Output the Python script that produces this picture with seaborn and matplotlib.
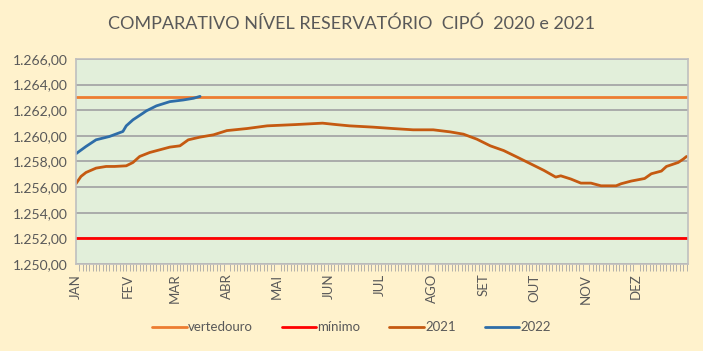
import pandas as pd
import seaborn as sns
import matplotlib.pyplot as plt
from matplotlib.ticker import FuncFormatter, MultipleLocator

# day of year (0 = 1 jan) and reservoir level
dias_2021 = [0, 3, 6, 12, 18, 23, 30, 34, 38, 44, 50, 56, 62, 67, 74, 82, 90, 102,
             114, 131, 147, 155, 163, 177, 189, 201, 213, 223, 231, 239, 247, 255,
             263, 271, 279, 286, 289, 295, 301, 307, 313, 322, 325, 331, 339, 343,
             349, 352, 359, 362, 364]
nivel_2021 = [1256.26, 1256.83, 1257.14, 1257.48, 1257.61, 1257.61, 1257.66, 1257.92,
              1258.39, 1258.70, 1258.91, 1259.12, 1259.22, 1259.69, 1259.90, 1260.08,
              1260.41, 1260.57, 1260.78, 1260.88, 1260.99, 1260.88, 1260.78, 1260.68,
              1260.57, 1260.47, 1260.47, 1260.31, 1260.13, 1259.74, 1259.22, 1258.85,
              1258.34, 1257.82, 1257.30, 1256.78, 1256.88, 1256.63, 1256.31, 1256.31,
              1256.10, 1256.10, 1256.26, 1256.47, 1256.67, 1257.04, 1257.25, 1257.61,
              1257.92, 1258.18, 1258.39]

dias_2022 = [0, 6, 12, 20, 28, 30, 34, 40, 42, 48, 56, 64, 70, 74]
nivel_2022 = [1258.60, 1259.17, 1259.69, 1259.95, 1260.34, 1260.78, 1261.25, 1261.77,
              1261.95, 1262.34, 1262.67, 1262.80, 1262.93, 1263.08]

vertedouro = 1263.05
minimo = 1252.0

meses = ['JAN', 'FEV', 'MAR', 'ABR', 'MAI', 'JUN', 'JUL', 'AGO', 'SET', 'OUT', 'NOV', 'DEZ']
inicio_mes = [0, 31, 59, 90, 120, 151, 181, 212, 243, 273, 304, 334]

df21 = pd.DataFrame({'dia': dias_2021, 'nivel': nivel_2021})
df22 = pd.DataFrame({'dia': dias_2022, 'nivel': nivel_2022})

sns.set_style('white')
plt.rcParams['font.family'] = ['Lato', 'DejaVu Sans']

fig = plt.figure(figsize=(7.03, 3.51), dpi=100, facecolor='#FFF2CC')
ax = fig.add_axes([0.108, 0.248, 0.871, 0.584])
ax.set_facecolor('#E2EFDA')

ax.axhline(vertedouro, color='#ED7D31', lw=2, label='vertedouro')
ax.axhline(minimo, color='#FF0000', lw=2, label='mínimo')
sns.lineplot(data=df21, x='dia', y='nivel', ax=ax, color='#C55A11', lw=2, label='2021')
sns.lineplot(data=df22, x='dia', y='nivel', ax=ax, color='#2E6DA8', lw=2, label='2022')

ax.set_xlim(0, 365)
ax.set_ylim(1250, 1266)
ax.yaxis.set_major_locator(MultipleLocator(2))
ax.yaxis.set_major_formatter(FuncFormatter(
    lambda v, p: f'{v:,.2f}'.replace(',', 'X').replace('.', ',').replace('X', '.')))
ax.grid(axis='y', color='#A6A6A6', lw=1.3)
ax.set_axisbelow(True)

ax.set_xticks(inicio_mes)
ax.set_xticklabels(meses, rotation=90)
ax.xaxis.set_minor_locator(MultipleLocator(2))
ax.tick_params(axis='x', which='major', length=5, color='#A6A6A6', labelsize=9.5,
               labelcolor='#595959', pad=2)
ax.tick_params(axis='x', which='minor', length=5, color='#A6A6A6', bottom=True)
ax.tick_params(axis='y', length=0, labelsize=10, labelcolor='#595959', pad=6)
ax.set_xlabel('')
ax.set_ylabel('')
for s in ax.spines.values():
    s.set_color('#BFBFBF')
    s.set_linewidth(1.2)

fig.suptitle('COMPARATIVO NÍVEL RESERVATÓRIO  CIPÓ  2020 e 2021', y=0.955,
             fontsize=13, color='#595959')

ax.get_legend().remove()
h, l = ax.get_legend_handles_labels()
fig.legend(h, l, loc='center', bbox_to_anchor=(0.5, 0.068), ncol=4, frameon=False,
           fontsize=9.5, labelcolor='#595959', handlelength=2.6, handletextpad=0.1,
           columnspacing=2.2)

fig.savefig('out.png', dpi=100, facecolor=fig.get_facecolor())
